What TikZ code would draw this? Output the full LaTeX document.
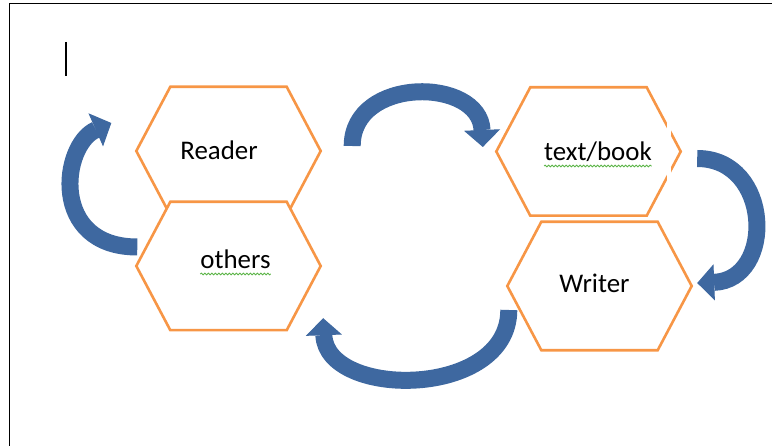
\documentclass[tikz,border=0pt]{standalone}
\usepackage{fontspec}
\setmainfont{Carlito}
\usetikzlibrary{arrows.meta,backgrounds,decorations.pathmorphing}
\definecolor{hexorange}{RGB}{247,150,70}
\definecolor{arrowblue}{RGB}{62,104,160}
\definecolor{spellgreen}{RGB}{90,180,70}

\begin{document}
\begin{tikzpicture}[x=1bp,y=-1bp,
	hexa/.style={rectangle,minimum width=184bp,minimum height=128bp,inner sep=0pt},
	hexline/.style={draw=hexorange,fill=white,line width=2.6bp},
	word/.style={anchor=base,inner sep=0pt,font=\fontsize{27}{32}\selectfont},
	curvearrow/.style={draw=arrowblue,line width=17bp,-{Triangle[length=17bp,width=36bp,line width=1bp]}},
	squiggle/.style={draw=spellgreen,line width=0.8bp,decorate,decoration={snake,amplitude=0.9bp,segment length=3.5bp}}]
	\useasboundingbox (0,0) rectangle (772,446);
	\draw[line width=1.6bp] (9.5,446) -- (9.5,3.5) -- (772,3.5);
	\draw[line width=2.6bp] (66,42) -- (66,76);
	% the four boxes
	\node[hexa] (reader) at (228.5,151) {};
	\node[hexa] (others) at (228.5,266) {};
	\node[hexa] (book) at (588.5,151.5) {};
	\node[hexa] (writer) at (599.5,286) {};
	\begin{pgfonlayer}{background}
		\foreach \n in {reader,others,book,writer}
			\draw[hexline] ([xshift=34bp]\n.north west) -- ([xshift=-34bp]\n.north east) -- (\n.east)
				-- ([xshift=-34bp]\n.south east) -- ([xshift=34bp]\n.south west) -- (\n.west) -- cycle;
	\end{pgfonlayer}
	\fill[white] ([shift={(-14,-32)}]book.east) rectangle ([shift={(-9.5,30)}]book.east);
	\node[word] (readertext) at ([shift={(-9.5,9)}]reader.center) {Reader};
	\node[word] (otherstext) at ([shift={(7,3)}]others.center) {others};
	\node[word] (booktext) at ([shift={(9.5,9.5)}]book.center) {text/book};
	\node[word] (writertext) at ([shift={(-5,7)}]writer.center) {Writer};
	\draw[squiggle] ([shift={(0,5)}]booktext.base west) -- ([shift={(0,5)}]booktext.base east);
	\draw[squiggle] ([shift={(0,5)}]otherstext.base west) -- ([shift={(0,5)}]otherstext.base east);
	% arrows round the cycle
	\draw[curvearrow] ([shift={(31.5,-5)}]reader.east) .. controls +(0,-70) and +(-3,-70) .. ([shift={(-13.5,-4.5)}]book.west);
	\draw[curvearrow] ([shift={(16.5,7)}]book.east) .. controls +(75,0) and +(78,-3) .. ([shift={(5.5,-3)}]writer.east);
	\draw[curvearrow] ([shift={(1.5,24)}]writer.west) .. controls +(0,89) and +(3,81) .. ([shift={(2.5,-12)}]others.south east);
	\draw[curvearrow] ([shift={(1,-19)}]others.west) .. controls +(-88,0) and +(-50,22) .. ([shift={(-25,-28)}]reader.west);
\end{tikzpicture}
\end{document}
